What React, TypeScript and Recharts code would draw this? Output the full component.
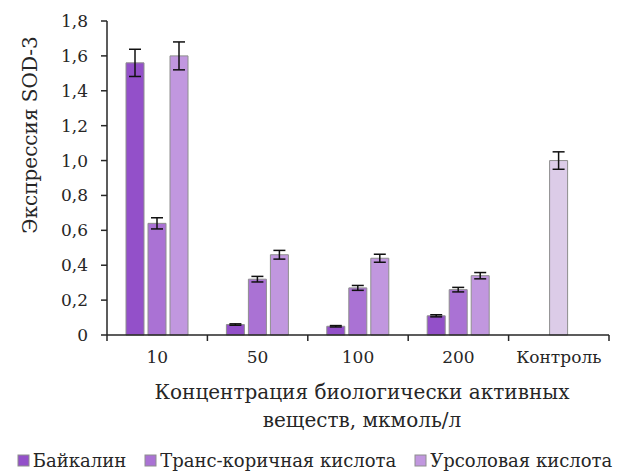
import React from "react";
import { BarChart, Bar, XAxis, YAxis, ErrorBar, Legend, Label, Cell } from "recharts";

// Concentration groups (мкмоль/л) plus the untreated control
const categories = ["10", "50", "100", "200", "Контроль"];

// SOD-3 expression per compound
const baicalin = [1.56, 0.06, 0.05, 0.11, null];
const baicalinErr = [0.078, 0.004, 0.004, 0.006, 0];
const cinnamic = [0.64, 0.32, 0.27, 0.26, null];
const cinnamicErr = [0.032, 0.016, 0.014, 0.013, 0];
const ursolic = [1.6, 0.46, 0.44, 0.34, null];
const ursolicErr = [0.08, 0.025, 0.023, 0.018, 0];

// Control value, drawn centred in its own group
const controlValue = 1.0;
const controlErr = 0.05;

const yTicks = [0, 0.2, 0.4, 0.6, 0.8, 1.0, 1.2, 1.4, 1.6, 1.8];

const seriesNames = ["Байкалин", "Транс-коричная кислота", "Урсоловая кислота"];
const seriesColors = ["#9350C9", "#AA72D4", "#C197DF"];
const controlColor = "#DCCCE8";

const data = categories.map((c, i) => {
  const isControl = c === "Контроль";
  return {
    name: c,
    baicalin: baicalin[i],
    baicalinErr: baicalinErr[i],
    cinnamic: isControl ? controlValue : cinnamic[i],
    cinnamicErr: isControl ? controlErr : cinnamicErr[i],
    ursolic: ursolic[i],
    ursolicErr: ursolicErr[i],
  };
});

const FONT = "DejaVu Serif";
const TEXT = "#262626";
const AXIS = "#262626";
const BAR_STROKE = "#8E8E8E";
const TICK_LEN = 6;

const fmt = (v: number) => (v === 0 ? "0" : v.toFixed(1).replace(".", ","));

// Category label with tick marks on the group boundaries
const XTick = (props: any) => {
  const { x, y, payload, index } = props;
  const half = payload && payload.offset ? payload.offset : 50.2;
  const last = index === categories.length - 1;
  return (
    <g>
      <line x1={x - half} y1={y} x2={x - half} y2={y + TICK_LEN} stroke={AXIS} strokeWidth={1.5} />
      {last && <line x1={x + half} y1={y} x2={x + half} y2={y + TICK_LEN} stroke={AXIS} strokeWidth={1.5} />}
      <text x={x} y={y + 22} dy="0.35em" textAnchor="middle" fill={TEXT} fontSize={17} fontFamily={FONT}>
        {payload.value}
      </text>
    </g>
  );
};

const XTitle = (props: any) => {
  const vb = props.viewBox || {};
  const cx = vb.x + vb.width / 2 + 4;
  return (
    <text x={cx} y={0} textAnchor="middle" fill={TEXT} fontSize={20} fontFamily={FONT}>
      <tspan x={cx} y={391}>Концентрация биологически активных</tspan>
      <tspan x={cx} y={419}>веществ, мкмоль/л</tspan>
    </text>
  );
};

const YTitle = () => (
  <text
    x={22}
    y={127}
    transform="rotate(-90, 22, 127)"
    textAnchor="middle"
    dominantBaseline="central"
    fill={TEXT}
    fontSize={20}
    fontFamily={FONT}
  >
    Экспрессия SOD-3
  </text>
);

const LegendContent = () => (
  <div
    style={{
      height: 30,
      boxSizing: "border-box",
      paddingTop: 7,
      paddingLeft: 12,
      display: "flex",
      justifyContent: "center",
      gap: 18,
      fontFamily: FONT,
      fontSize: 18,
      lineHeight: "22px",
      color: TEXT,
      whiteSpace: "nowrap",
    }}
  >
    {seriesNames.map((n, i) => (
      <div key={n} style={{ display: "flex", alignItems: "center" }}>
        <svg width={14} height={14} style={{ marginRight: 2 }}>
          <rect x={1} y={1} width={11} height={11} fill={seriesColors[i]} stroke={BAR_STROKE} strokeWidth={1} />
        </svg>
        <span>{n}</span>
      </div>
    ))}
  </div>
);

export default function App() {
  return (
    <BarChart
      width={622}
      height={464}
      data={data}
      margin={{ top: 13, right: 21, left: 0, bottom: 0 }}
      barSize={18}
      barGap={4}
    >
      <XAxis
        dataKey="name"
        height={107}
        axisLine={{ stroke: AXIS, strokeWidth: 1.5 }}
        tickLine={false}
        tickSize={0}
        tickMargin={0}
        tick={<XTick />}
        interval={0}
      >
        <Label content={<XTitle />} />
      </XAxis>
      <YAxis
        width={99}
        domain={[0, 1.8]}
        ticks={yTicks}
        tickFormatter={fmt}
        axisLine={{ stroke: AXIS, strokeWidth: 1.5 }}
        tickLine={{ stroke: AXIS, strokeWidth: 1.5 }}
        tickSize={TICK_LEN}
        tickMargin={13}
        tick={{ fill: TEXT, fontSize: 17, fontFamily: FONT }}
        interval={0}
      >
        <Label content={<YTitle />} />
      </YAxis>
      <Legend verticalAlign="bottom" content={<LegendContent />} />
      <Bar dataKey="baicalin" name={seriesNames[0]} fill={seriesColors[0]} stroke={BAR_STROKE} strokeWidth={1} isAnimationActive={false}>
        <ErrorBar dataKey="baicalinErr" width={6} stroke="#111" strokeWidth={1.5} />
      </Bar>
      <Bar dataKey="cinnamic" name={seriesNames[1]} fill={seriesColors[1]} stroke={BAR_STROKE} strokeWidth={1} isAnimationActive={false}>
        {data.map((d) => (
          <Cell key={d.name} fill={d.name === "Контроль" ? controlColor : seriesColors[1]} />
        ))}
        <ErrorBar dataKey="cinnamicErr" width={6} stroke="#111" strokeWidth={1.5} />
      </Bar>
      <Bar dataKey="ursolic" name={seriesNames[2]} fill={seriesColors[2]} stroke={BAR_STROKE} strokeWidth={1} isAnimationActive={false}>
        <ErrorBar dataKey="ursolicErr" width={6} stroke="#111" strokeWidth={1.5} />
      </Bar>
    </BarChart>
  );
}
